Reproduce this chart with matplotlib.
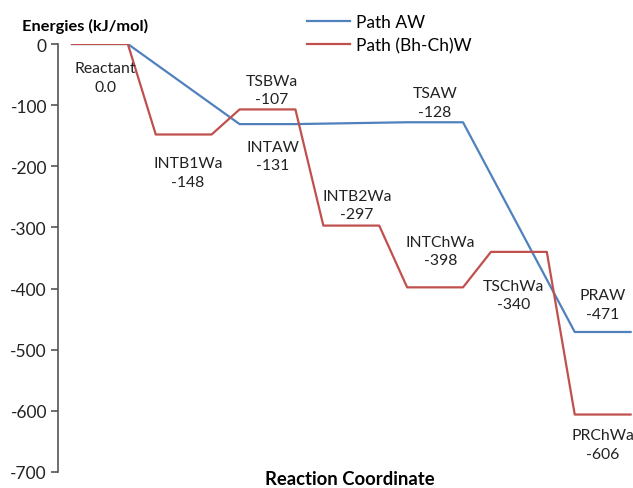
#!/usr/bin/env python3

import matplotlib.pyplot as plt

# Reaction coordinate positions (plateau of 2 units, gap of 1 unit)
aw_x = [0, 2, 6, 8, 12, 14, 18, 20]
aw_y = [0, 0, -131, -131, -128, -128, -471, -471]

bhch_x = [0, 2, 3, 5, 6, 8, 9, 11, 12, 14, 15, 17, 18, 20]
bhch_y = [0, 0, -148, -148, -107, -107, -297, -297, -398, -398, -340, -340, -606, -606]

# Annotations: name, value, label position
names = ["Reactant", "INTB1Wa", "TSBWa", "INTAW", "INTB2Wa", "TSAW",
         "INTChWa", "TSChWa", "PRAW", "PRChWa"]
values = ["0.0", "-148", "-107", "-131", "-297", "-128", "-398", "-340", "-471", "-606"]
label_x = [1.2, 4.15, 7.15, 7.2, 10.2, 13.0, 13.2, 15.8, 19.0, 19.0]
label_y = [-55, -210, -75, -183, -263, -96, -339, -411, -426, -655]

plt.rcParams["font.family"] = ["Lato", "DejaVu Sans"]
plt.rcParams["axes.unicode_minus"] = False

fig = plt.figure(figsize=(6.33, 4.89), dpi=100)
ax = fig.add_axes([58 / 633, 1 - 473 / 489, (632 - 58) / 633, (473 - 45) / 489])

ax.plot(aw_x, aw_y, color="#4F81BD", lw=1.6, label="Path AW")
ax.plot(bhch_x, bhch_y, color="#C0504D", lw=1.6, label="Path (Bh-Ch)W")

for n, v, x, y in zip(names, values, label_x, label_y):
    ax.text(x, y, n + "\n" + v, ha="center", va="center", fontsize=11.3,
            color="#222222", linespacing=1.4)

ax.set_xlim(-0.5, 20.05)
ax.set_ylim(-700, 0)
ax.set_yticks(range(-700, 1, 100))
ax.set_xticks([])
for s in ["top", "right", "bottom"]:
    ax.spines[s].set_visible(False)
ax.spines["left"].set_color("#555555")
ax.spines["left"].set_linewidth(1.2)
ax.tick_params(axis="y", length=5, width=1.2, color="#555555", labelsize=12.5,
               labelcolor="#222222", pad=3)

fig.text(22 / 633, 1 - 26 / 489, "Energies (kJ/mol)", fontsize=11.8,
         fontweight="bold", ha="left", va="center")
fig.text(350 / 633, 1 - 480 / 489, "Reaction Coordinate", fontsize=13.3,
         fontweight="bold", ha="center", va="center")

fig.legend(loc="upper left", bbox_to_anchor=(300 / 633, 1 - 8 / 489),
           frameon=False, fontsize=12.5, handlelength=2.5, handletextpad=0.3,
           labelspacing=0.4, borderaxespad=0)

fig.savefig("out.png", dpi=100)
